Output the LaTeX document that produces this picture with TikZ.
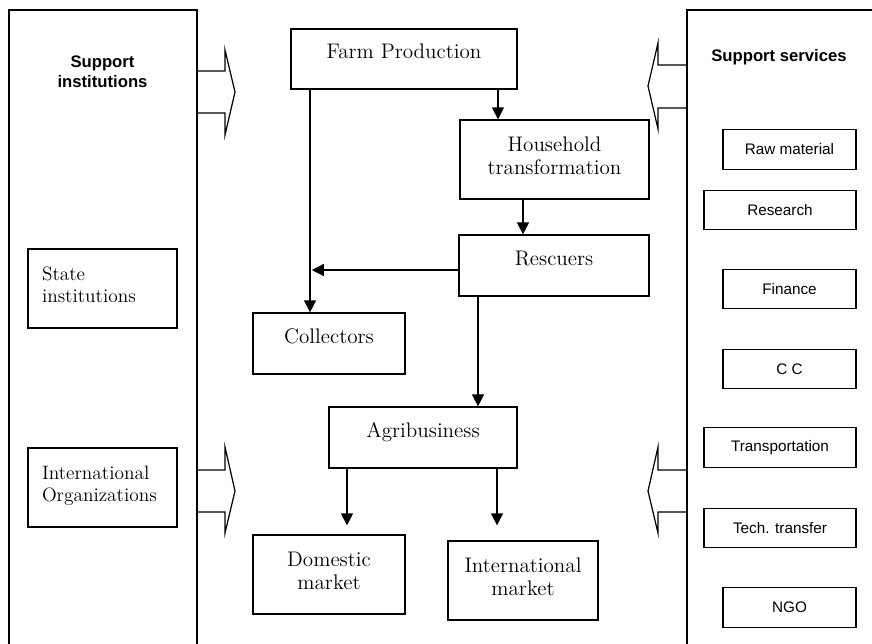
\documentclass[tikz,border=0pt]{standalone}
\usepackage{fontspec}
\usepackage{tikz}
\usetikzlibrary{positioning,arrows.meta,calc}
\newfontfamily\helv{Liberation Sans}

\begin{document}
\begin{tikzpicture}[x=0.02cm, y=-0.02cm,
    box/.style={draw, line width=0.7pt, align=center, inner sep=0pt, font=\fontsize{12}{13.5}\selectfont},
    oneline/.style={text height=9pt, text depth=9pt},
    twoline/.style={text height=22pt, text depth=4.5pt},
    lbox/.style={draw, line width=0.7pt, align=left, inner sep=0pt, text width=2.42cm,
        minimum width=2.98cm, minimum height=1.58cm, text height=8pt, text depth=17.3pt,
        font=\fontsize{11}{12.5}\selectfont},
    sbox/.style={draw, line width=0.7pt, inner sep=0pt, minimum height=0.79cm, font=\helv\fontsize{8.7}{10.5}\selectfont},
    head/.style={align=center, font=\helv\bfseries\fontsize{9.5}{11.4}\selectfont},
    flow/.style={-{Triangle[length=0.24cm,width=0.24cm]}, line width=0.7pt},
    fat/.style={line width=0.7pt}]
    \useasboundingbox (0,0) rectangle (872,644);

    % side panels
    \draw[fat] (9,644) -- (9,10) -- (197,10) -- (197,644);
    \draw[fat] (687,644) -- (687,10) -- (872,10);
    \node[head] (inst) at (102.5,72) {Support\\institutions};
    \node[head] (serv) at (779,57) {Support services};

    % block arrows
    \draw[fat] (197,71) -- (225,71) -- (225,50) -- (235,92) -- (225,135) -- (225,113) -- (197,113);
    \draw[fat] (197,470) -- (225,470) -- (225,447) -- (235,491) -- (225,533) -- (225,512) -- (197,512);
    \draw[fat] (687,65) -- (658,65) -- (658,43) -- (648,86) -- (658,129) -- (658,108) -- (687,108);
    \draw[fat] (687,470) -- (658,470) -- (658,447) -- (648,491) -- (658,533) -- (658,512) -- (687,512);

    \node[lbox] (state) at (102.5,288.5) {State\\institutions};
    \node[lbox] (intorg) at (102.5,487.5) {International\\Organizations};

    % chain
    \node[box, oneline, minimum width=4.52cm, minimum height=1.2cm] (farm) at (404,59) {Farm Production};
    \node[box, twoline, minimum width=3.78cm, minimum height=1.58cm] (house) at (554.5,159.5) {Household\\transformation};
    \node[box, oneline, minimum width=3.8cm, minimum height=1.22cm] (resc) at (554,265.5) {Rescuers};
    \node[box, oneline, minimum width=3.04cm, minimum height=1.22cm] (coll) at (329,343.5) {Collectors};
    \node[box, oneline, minimum width=3.76cm, minimum height=1.22cm] (agri) at (423,437.5) {Agribusiness};
    \node[box, twoline, minimum width=3.04cm, minimum height=1.58cm] (dom) at (329,574.5) {Domestic\\market};
    \node[box, twoline, minimum width=3cm, minimum height=1.58cm] (intl) at (523,580.5) {International\\market};

    % services
    \node[sbox, minimum width=2.66cm] (raw) at (789.5,149.5) {Raw material};
    \node[sbox, minimum width=3.04cm] (research) at (780,210) {Research};
    \node[sbox, minimum width=2.66cm] (finance) at (789.5,289) {Finance};
    \node[sbox, minimum width=2.66cm] (cc) at (789.5,369) {C C};
    \node[sbox, minimum width=3.04cm] (transport) at (780,447.5) {Transportation};
    \node[sbox, minimum width=3.04cm] (tech) at (780,528) {Tech. transfer};
    \node[sbox, minimum width=2.66cm] (ngo) at (789.5,607.5) {NGO};

    \coordinate (xc) at (310,0);
    \coordinate (xh) at (498,0);
    \coordinate (xr) at (523,0);
    \coordinate (xa) at (478,0);
    \coordinate (xd) at (347,0);
    \coordinate (xi) at (497,0);
    \coordinate (yr) at (0,270);
    \draw[flow] (farm.south -| xc) -- (coll.north -| xc);
    \draw[flow] (farm.south -| xh) -- (house.north -| xh);
    \draw[flow] (house.south -| xr) -- (resc.north -| xr);
    \draw[flow, shorten >=1pt] (resc.west |- yr) -- (xc |- yr);
    \draw[flow] (resc.south -| xa) -- (agri.north -| xa);
    \draw[flow, shorten >=0.18cm] (agri.south -| xd) -- (dom.north -| xd);
    \draw[flow, shorten >=0.3cm] (agri.south -| xi) -- (intl.north -| xi);
\end{tikzpicture}
\end{document}
